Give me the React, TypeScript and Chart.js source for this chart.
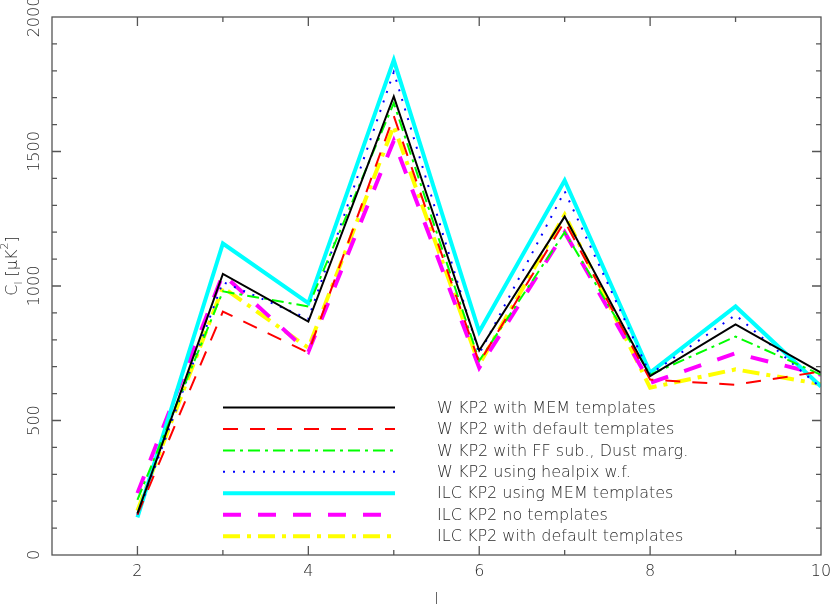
import React, { useEffect, useRef } from 'react';
import { Chart, registerables } from 'chart.js';

Chart.register(...registerables);

// ---- data ----
const multipoles = [2, 3, 4, 5, 6, 7, 8, 9, 10];
const seriesLabels = [
  'W KP2 with MEM templates',
  'W KP2 with default templates',
  'W KP2 with FF sub., Dust marg.',
  'W KP2 using healpix w.f.',
  'ILC KP2 using MEM templates',
  'ILC KP2 no templates',
  'ILC KP2 with default templates',
];
const wMem = [155, 1045, 868, 1705, 760, 1258, 665, 857, 678];
const wDefault = [150, 905, 752, 1632, 715, 1240, 652, 633, 682];
const wFFDust = [205, 980, 924, 1680, 722, 1200, 670, 812, 670];
const wHealpix = [150, 1015, 878, 1795, 748, 1352, 672, 892, 622];
const ilcMem = [140, 1158, 936, 1840, 830, 1392, 678, 924, 626];
const ilcNoTemplates = [230, 1043, 755, 1540, 696, 1200, 640, 750, 670];
const ilcDefault = [165, 995, 770, 1595, 708, 1265, 622, 690, 635];
const yTickLabels = [0, 500, 1000, 1500, 2000];
const xTickLabels = [2, 4, 6, 8, 10];

const seriesValues = [wMem, wDefault, wFFDust, wHealpix, ilcMem, ilcNoTemplates, ilcDefault];
const seriesColors = ['#000000', '#ff0000', '#00ff00', '#0000ff', '#00ffff', '#ff00ff', '#ffff00'];
const seriesWidths = [2, 2, 2, 2, 4, 4, 4];
const seriesDashes: number[][] = [[], [15, 12], [12, 5, 3, 5], [2, 8], [], [18, 17], [17, 7, 4, 7]];

const FONT = '"DejaVu Sans", sans-serif';
const WEIGHT = '200';
const TEXT_COLOR = '#2a2a2a';
const AXIS_COLOR = '#555';

const framePlugin = {
  id: 'frame',
  afterDraw(chart: any) {
    const { ctx, chartArea } = chart;
    const xs = chart.scales.x;
    const ys = chart.scales.y;
    const { left, right, top, bottom } = chartArea;
    ctx.save();
    ctx.strokeStyle = AXIS_COLOR;
    ctx.lineWidth = 1.3;
    ctx.strokeRect(left, top, right - left, bottom - top);
    ctx.beginPath();
    xs.ticks.forEach((t: any) => {
      const v = t.value;
      if (v <= xs.min || v >= xs.max) return;
      const px = xs.getPixelForValue(v);
      const len = xTickLabels.includes(v) ? 9 : 5;
      ctx.moveTo(px, bottom);
      ctx.lineTo(px, bottom - len);
      ctx.moveTo(px, top);
      ctx.lineTo(px, top + len);
    });
    ys.ticks.forEach((t: any) => {
      const v = t.value;
      if (v <= ys.min || v >= ys.max) return;
      const py = ys.getPixelForValue(v);
      const len = yTickLabels.includes(v) ? 9 : 5;
      ctx.moveTo(left, py);
      ctx.lineTo(left + len, py);
      ctx.moveTo(right, py);
      ctx.lineTo(right - len, py);
    });
    ctx.stroke();

    // y tick labels (rotated)
    ctx.fillStyle = TEXT_COLOR;
    ctx.font = `${WEIGHT} 16px ${FONT}`;
    ctx.textAlign = 'center';
    ctx.textBaseline = 'middle';
    yTickLabels.forEach((v) => {
      const py = ys.getPixelForValue(v);
      ctx.save();
      ctx.translate(left - 17, py);
      ctx.rotate(-Math.PI / 2);
      ctx.fillText(String(v), 0, 0);
      ctx.restore();
    });

    // x title
    ctx.fillText('l', (left + right) / 2, 600);

    // y title  C_l [μK^2]
    const parts = [
      { t: 'C', size: 16, dy: 0 },
      { t: 'l', size: 11, dy: 6 },
      { t: ' [μK', size: 16, dy: 0 },
      { t: '2', size: 11, dy: -8 },
      { t: ']', size: 16, dy: 0 },
    ];
    let total = 0;
    parts.forEach((p) => {
      ctx.font = `${WEIGHT} ${p.size}px ${FONT}`;
      total += ctx.measureText(p.t).width;
    });
    ctx.save();
    ctx.translate(13, 266);
    ctx.rotate(-Math.PI / 2);
    ctx.textAlign = 'left';
    ctx.textBaseline = 'middle';
    let cx = -total / 2;
    parts.forEach((p) => {
      ctx.font = `${WEIGHT} ${p.size}px ${FONT}`;
      ctx.fillText(p.t, cx, p.dy);
      cx += ctx.measureText(p.t).width;
    });
    ctx.restore();

    // legend
    ctx.font = `${WEIGHT} 16px ${FONT}`;
    ctx.textAlign = 'left';
    ctx.textBaseline = 'middle';
    chart.data.datasets.forEach((ds: any, i: number) => {
      const y = 407.5 + i * 21.45;
      ctx.save();
      ctx.strokeStyle = ds.borderColor;
      ctx.lineWidth = ds.borderWidth;
      ctx.setLineDash(ds.borderDash || []);
      ctx.lineCap = 'butt';
      ctx.beginPath();
      ctx.moveTo(223, y);
      ctx.lineTo(395, y);
      ctx.stroke();
      ctx.restore();
      ctx.fillStyle = TEXT_COLOR;
      ctx.fillText(ds.label, 437, y + 1);
    });
    ctx.restore();
  },
};

export default function App() {
  const ref = useRef<HTMLCanvasElement | null>(null);
  useEffect(() => {
    if (!ref.current) return;
    const chart = new Chart(ref.current, {
      type: 'line',
      data: {
        datasets: seriesValues.map((vals, i) => ({
          label: seriesLabels[i],
          data: multipoles.map((l, j) => ({ x: l, y: vals[j] })),
          borderColor: seriesColors[i],
          backgroundColor: seriesColors[i],
          borderWidth: seriesWidths[i],
          borderDash: seriesDashes[i],
          borderCapStyle: 'butt',
          borderJoinStyle: 'miter',
          pointRadius: 0,
          tension: 0,
          fill: false,
        })),
      },
      options: {
        animation: false,
        responsive: true,
        maintainAspectRatio: false,
        layout: { padding: { left: 0, top: 17, right: 0, bottom: 0 } },
        plugins: { legend: { display: false }, tooltip: { enabled: false } },
        scales: {
          x: {
            type: 'linear',
            min: 1,
            max: 10,
            grid: { display: false, drawTicks: false },
            border: { display: false },
            afterFit: (s: any) => { s.height = 54; s.paddingRight = 9; },
            ticks: {
              stepSize: 1,
              autoSkip: false,
              maxRotation: 0,
              padding: 7,
              color: TEXT_COLOR,
              font: { family: FONT, size: 16, weight: WEIGHT },
              callback: (v: any) => (xTickLabels.includes(Number(v)) ? String(v) : ''),
            },
          },
          y: {
            min: 0,
            max: 2000,
            grid: { display: false, drawTicks: false },
            border: { display: false },
            afterFit: (s: any) => { s.width = 52; },
            ticks: { stepSize: 100, display: false },
          },
        },
      },
      plugins: [framePlugin],
    } as any);
    return () => chart.destroy();
  }, []);
  return (
    <div style={{ position: 'fixed', left: 0, top: 0, width: 830, height: 609, background: '#fff' }}>
      <canvas ref={ref} />
    </div>
  );
}
